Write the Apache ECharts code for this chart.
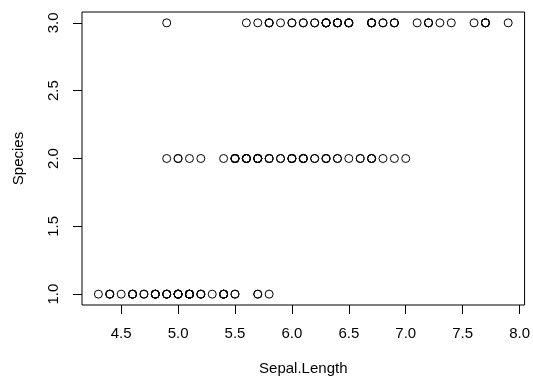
<!DOCTYPE html>
<html>
<head>
<meta charset="utf-8">
<script src="https://cdn.jsdelivr.net/npm/echarts@6/dist/echarts.min.js"></script>
<style>
  html, body { margin: 0; padding: 0; background: #fff; }
  #chart { width: 533px; height: 381px; }
</style>
</head>
<body>
<div id="chart"></div>
<script>
// iris Sepal.Length by species code
const setosa = [5.1, 4.9, 4.7, 4.6, 5.0, 5.4, 4.6, 5.0, 4.4, 4.9, 5.4, 4.8, 4.8, 4.3, 5.8, 5.7, 5.4, 5.1, 5.7, 5.1,
  5.4, 5.1, 4.6, 5.1, 4.8, 5.0, 5.0, 5.2, 5.2, 4.7, 4.8, 5.4, 5.2, 5.5, 4.9, 5.0, 5.5, 4.9, 4.4, 5.1,
  5.0, 4.5, 4.4, 5.0, 5.1, 4.8, 5.1, 4.6, 5.3, 5.0];
const versicolor = [7.0, 6.4, 6.9, 5.5, 6.5, 5.7, 6.3, 4.9, 6.6, 5.2, 5.0, 5.9, 6.0, 6.1, 5.6, 6.7, 5.6, 5.8, 6.2, 5.6,
  5.9, 6.1, 6.3, 6.1, 6.4, 6.6, 6.8, 6.7, 6.0, 5.7, 5.5, 5.5, 5.8, 6.0, 5.4, 6.0, 6.7, 6.3, 5.6, 5.5,
  5.5, 6.1, 5.8, 5.0, 5.6, 5.7, 5.7, 6.2, 5.1, 5.7];
const virginica = [6.3, 5.8, 7.1, 6.3, 6.5, 7.6, 4.9, 7.3, 6.7, 7.2, 6.5, 6.4, 6.8, 5.7, 5.8, 6.4, 6.5, 7.7, 7.7, 6.0,
  6.9, 5.6, 7.7, 6.3, 6.7, 7.2, 6.2, 6.1, 6.4, 7.2, 7.4, 7.9, 6.4, 6.3, 6.1, 7.7, 6.3, 6.4, 6.0, 6.9,
  6.7, 6.9, 5.8, 6.8, 6.7, 6.7, 6.3, 6.5, 6.2, 5.9];
const speciesCodes = [1, 2, 3];
const xTicks = [4.5, 5.0, 5.5, 6.0, 6.5, 7.0, 7.5, 8.0];
const yTicks = [1.0, 1.5, 2.0, 2.5, 3.0];

const groups = [setosa, versicolor, virginica];
const points = [];
groups.forEach((vals, i) => {
  vals.forEach((v) => points.push([v, speciesCodes[i]]));
});

// R style: 4% padding around data range
const allX = points.map((p) => p[0]);
const xLo = Math.min(...allX), xHi = Math.max(...allX);
const xPad = (xHi - xLo) * 0.04;
const yPad = (3 - 1) * 0.04;

const font = 'Liberation Sans, Arial, sans-serif';
const fs = 15;
const chart = echarts.init(document.getElementById('chart'));
chart.setOption({
  animation: false,
  grid: {
    left: 82, right: 7, top: 12, bottom: 74,
    show: true, borderColor: '#000', borderWidth: 1, backgroundColor: 'transparent',
  },
  xAxis: {
    type: 'value',
    min: xLo - xPad,
    max: xHi + xPad,
    name: 'Sepal.Length',
    nameLocation: 'middle',
    nameGap: 56,
    nameTextStyle: { color: '#000', fontSize: fs, fontFamily: font },
    axisLine: { show: false },
    splitLine: { show: false },
    axisTick: { show: true, length: 9, customValues: xTicks, lineStyle: { color: '#000' } },
    axisLabel: {
      customValues: xTicks, margin: 21, color: '#000', fontSize: fs, fontFamily: font,
      formatter: (v) => v.toFixed(1),
    },
  },
  yAxis: {
    type: 'value',
    min: 1 - yPad,
    max: 3 + yPad,
    name: 'Species',
    nameLocation: 'middle',
    nameGap: 56,
    nameTextStyle: { color: '#000', fontSize: fs, fontFamily: font },
    axisLine: { show: false },
    splitLine: { show: false },
    axisTick: { show: true, length: 9, customValues: yTicks, lineStyle: { color: '#000' } },
    axisLabel: {
      customValues: yTicks, rotate: 90, margin: 21, color: '#000', fontSize: fs, fontFamily: font,
      formatter: (v) => v.toFixed(1),
    },
  },
  series: [
    {
      type: 'scatter',
      data: points,
      symbol: 'circle',
      symbolSize: 8,
      itemStyle: { color: 'transparent', borderColor: '#000', borderWidth: 1, opacity: 1 },
      emphasis: { disabled: true },
    },
  ],
});
</script>
</body>
</html>
